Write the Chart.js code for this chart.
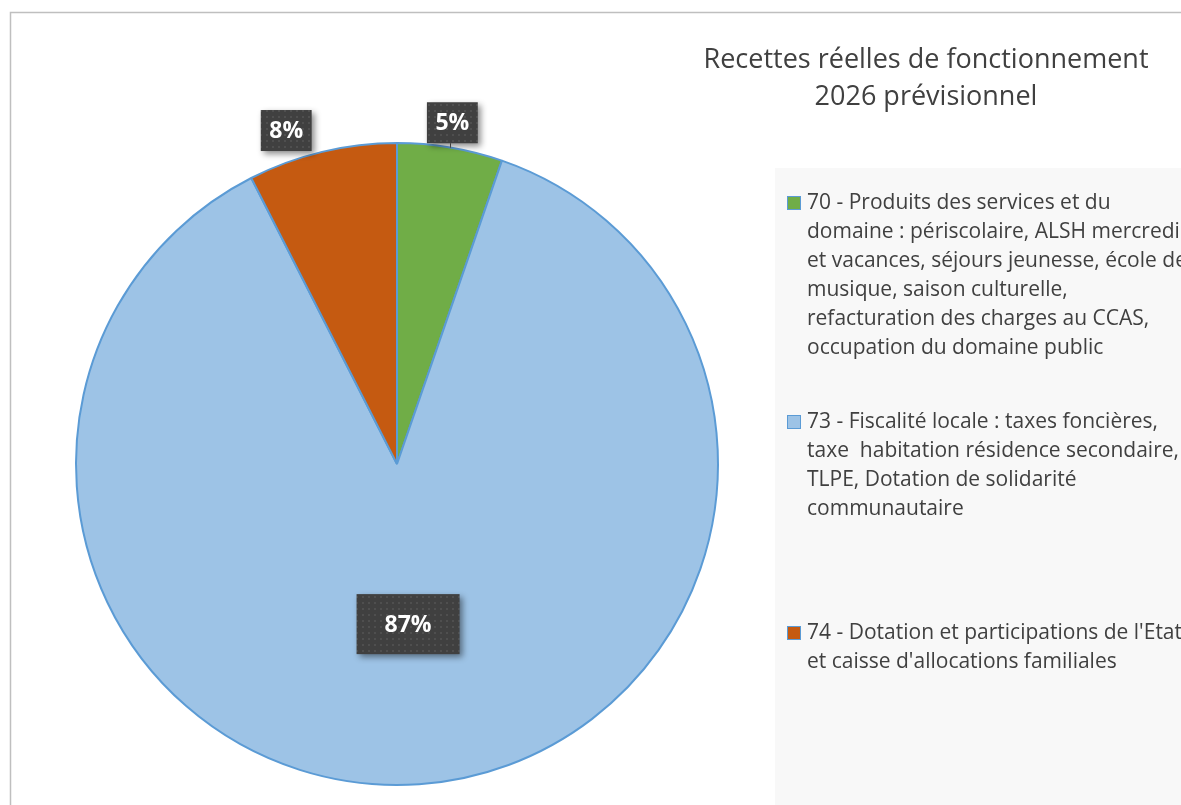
<!DOCTYPE html>
<html>
<head>
<meta charset="utf-8">
<script src="https://cdn.jsdelivr.net/npm/chart.js@4"></script>
<style>
  body { margin: 0; background: #fff; }
  canvas { display: block; }
</style>
</head>
<body>
<canvas id="pieChart" width="1181" height="805"></canvas>
<script>
// data
const titleLines = ["Recettes réelles de fonctionnement", "2026 prévisionnel"];
const categories = [
  ["70 - Produits des services et du",
   "domaine : périscolaire, ALSH mercredi",
   "et vacances, séjours jeunesse, école de",
   "musique, saison culturelle,",
   "refacturation des charges au CCAS,",
   "occupation du domaine public"],
  ["73 - Fiscalité locale : taxes foncières,",
   "taxe  habitation résidence secondaire,",
   "TLPE, Dotation de solidarité",
   "communautaire"],
  ["74 - Dotation et participations de l'Etat",
   "et caisse d'allocations familiales"]
];
const shares = [5.3, 87.2, 7.5];
const sliceColours = ["#70AD47", "#9DC3E6", "#C55A11"];

const total = shares.reduce((a, b) => a + b, 0);

// dotted dark fill used by the data label boxes
const dots = document.createElement("canvas");
dots.width = 6; dots.height = 6;
const dctx = dots.getContext("2d");
dctx.fillStyle = "#404040";
dctx.fillRect(0, 0, 6, 6);
dctx.fillStyle = "#4f4f4f";
dctx.fillRect(2, 2, 2, 2);

const decor = {
  id: "decor",
  beforeDraw(chart) {
    const ctx = chart.ctx;
    ctx.save();
    ctx.fillStyle = "#fff";
    ctx.fillRect(0, 0, chart.width, chart.height);
    // legend panel
    ctx.fillStyle = "#F8F8F8";
    ctx.fillRect(775, 168, chart.width - 775, chart.height - 168);
    // outer frame
    ctx.strokeStyle = "#BFBFBF";
    ctx.lineWidth = 1.5;
    ctx.beginPath();
    ctx.moveTo(10.5, chart.height);
    ctx.lineTo(10.5, 12.5);
    ctx.lineTo(chart.width, 12.5);
    ctx.stroke();
    ctx.restore();
  },
  afterDraw(chart, args, opts) {
    const ctx = chart.ctx;
    ctx.save();

    // title
    ctx.fillStyle = "#404040";
    ctx.font = "27px 'Open Sans'";
    ctx.textAlign = "center";
    ctx.textBaseline = "alphabetic";
    titleLines.forEach((t, i) => ctx.fillText(t, 926, 68 + i * 37));

    // legend
    ctx.font = "21px 'Open Sans'";
    ctx.textAlign = "left";
    ctx.textBaseline = "middle";
    categories.forEach((lines, i) => {
      const y0 = opts.legendRows[i];
      ctx.fillStyle = sliceColours[i];
      ctx.fillRect(787, y0 - 7, 14, 14);
      ctx.strokeStyle = "#5B9BD5";
      ctx.lineWidth = 1;
      ctx.strokeRect(787.5, y0 - 6.5, 13, 13);
      ctx.fillStyle = "#404040";
      lines.forEach((l, j) => ctx.fillText(l, 807, y0 + j * 29));
    });

    // data labels
    const meta = chart.getDatasetMeta(0);
    ctx.font = "bold 23px 'Open Sans'";
    ctx.textAlign = "center";
    meta.data.forEach((arc, i) => {
      const p = arc.getProps(["x", "y", "startAngle", "endAngle", "outerRadius"], true);
      const mid = (p.startAngle + p.endAngle) / 2;
      const outside = opts.placement[i] === "outside";
      const d = p.outerRadius * (outside ? 1.078 : 0.5);
      const nudge = opts.nudges[i];
      const cx = p.x + Math.cos(mid) * d + nudge[0];
      const cy = p.y + Math.sin(mid) * d + nudge[1];
      const txt = Math.round(shares[i] / total * 100) + "%";
      const tw = ctx.measureText(txt).width;
      const w = outside ? tw + 17 : tw + 56;
      const h = outside ? 41 : 60;

      if (opts.leaders[i]) {
        const dx = cx - p.x;
        const edgeY = p.y - Math.sqrt(p.outerRadius * p.outerRadius - dx * dx);
        ctx.strokeStyle = "#595959";
        ctx.lineWidth = 1;
        ctx.beginPath();
        ctx.moveTo(Math.round(cx) - 1.5, cy + h / 2);
        ctx.lineTo(Math.round(cx) - 1.5, edgeY);
        ctx.stroke();
      }

      ctx.save();
      ctx.shadowColor = "rgba(0,0,0,0.45)";
      ctx.shadowBlur = 6;
      ctx.shadowOffsetX = 3;
      ctx.shadowOffsetY = 3;
      ctx.fillStyle = ctx.createPattern(dots, "repeat");
      ctx.fillRect(cx - w / 2, cy - h / 2, w, h);
      ctx.restore();

      ctx.fillStyle = "#fff";
      ctx.fillText(txt, cx, cy + 1);
    });
    ctx.restore();
  }
};

const ctx = document.getElementById("pieChart").getContext("2d");
const pieChart = new Chart(ctx, {
  type: "pie",
  data: {
    labels: categories,
    datasets: [
      {
        data: shares,
        backgroundColor: sliceColours,
        borderColor: "#5B9BD5",
        borderWidth: 2
      }
    ]
  },
  options: {
    responsive: false,
    animation: false,
    layout: { padding: { left: 75, right: 462, top: 142, bottom: 19 } },
    plugins: {
      legend: { display: false },
      title: { display: false },
      tooltip: { enabled: false },
      decor: {
        legendRows: [203, 422, 633],
        placement: ["outside", "inside", "outside"],
        nudges: [[-2, 0], [0, 0], [-30, 3]],
        leaders: [true, false, false]
      }
    }
  },
  plugins: [decor]
});
</script>
</body>
</html>
